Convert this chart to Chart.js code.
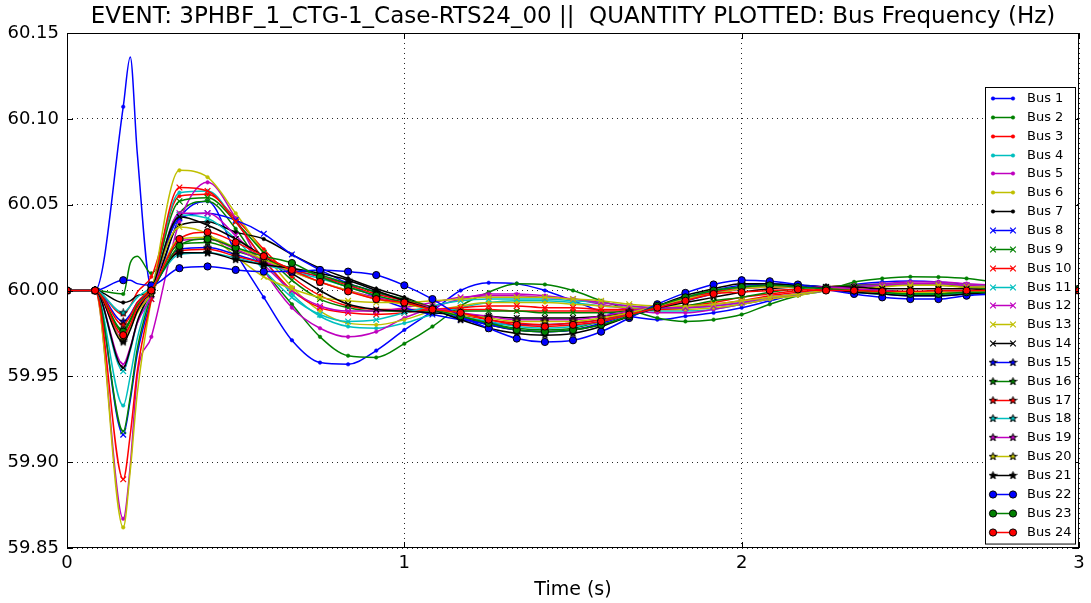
<!DOCTYPE html>
<html>
<head>
<meta charset="utf-8">
<script src="https://cdn.jsdelivr.net/npm/chart.js@4.4.1/dist/chart.umd.min.js"></script>
<style>
  html, body { margin: 0; padding: 0; background: #fff; }
  #wrap { width: 1091px; height: 603px; }
</style>
</head>
<body>
<div id="wrap"><canvas id="c" width="1091" height="603"></canvas></div>
<script>
// ─── DATA ─────────────────────────────────────────────────────
const titleText = 'EVENT: 3PHBF_1_CTG-1_Case-RTS24_00 ||  QUANTITY PLOTTED: Bus Frequency (Hz)';
const xLabel = 'Time (s)';
const xTicks = [0, 1, 2, 3];
const xTickLabels = ['0', '1', '2', '3'];
const yTicks = [59.85, 59.90, 59.95, 60.00, 60.05, 60.10, 60.15];
const yTickLabels = ['59.85', '59.90', '59.95', '60.00', '60.05', '60.10', '60.15'];

const busNames = ['Bus 1', 'Bus 2', 'Bus 3', 'Bus 4', 'Bus 5', 'Bus 6', 'Bus 7', 'Bus 8',
  'Bus 9', 'Bus 10', 'Bus 11', 'Bus 12', 'Bus 13', 'Bus 14', 'Bus 15', 'Bus 16',
  'Bus 17', 'Bus 18', 'Bus 19', 'Bus 20', 'Bus 21', 'Bus 22', 'Bus 23', 'Bus 24'];

// sample times (s); markers sit on the 1/12 s samples
const times = [0, 0.0833, 0.1667, 0.1875, 0.2083, 0.25, 0.3333, 0.4167, 0.5, 0.5833, 0.6667, 0.75,
  0.8333, 0.9167, 1.0, 1.0833, 1.1667, 1.25, 1.3333, 1.4167, 1.5, 1.5833, 1.6667, 1.75, 1.8333,
  1.9167, 2.0, 2.0833, 2.1667, 2.25, 2.3333, 2.4167, 2.5, 2.5833, 2.6667, 2.75, 2.8333, 2.9167, 3.0];

const bus01 = [60.000, 60.000, 60.107, 60.136, 60.080, 60.002, 60.042, 60.052, 60.022, 59.996, 59.971, 59.958, 59.957, 59.965, 59.977, 59.988, 60.000, 60.0045, 60.004, 60.000, 59.994, 59.988, 59.985, 59.983, 59.985, 59.987, 59.990, 59.994, 59.998, 60.001, 60.0035, 60.005, 60.0055, 60.005, 60.0035, 60.002, 60.000, 59.999, 59.999];
const bus02 = [60.000, 60.000, 59.998, 60.016, 60.020, 60.010, 60.045, 60.052, 60.036, 60.012, 59.992, 59.973, 59.962, 59.961, 59.969, 59.979, 59.991, 59.999, 60.004, 60.0035, 60.000, 59.994, 59.989, 59.984, 59.982, 59.983, 59.986, 59.992, 59.997, 60.000, 60.005, 60.007, 60.008, 60.0078, 60.007, 60.005, 60.003, 60.002, 60.001];
const bus03 = [60.000, 60.000, 59.986, 59.991, 59.999, 60.008, 60.055, 60.056, 60.042, 60.024, 60.008, 59.997, 59.991, 59.989, 59.989, 59.989, 59.989, 59.989, 59.988, 59.988, 59.988, 59.988, 59.988, 59.989, 59.991, 59.993, 59.996, 59.998, 60.000, 60.002, 60.003, 60.003, 60.003, 60.003, 60.002, 60.001, 60.001, 60.000, 60.000];
const bus04 = [60.000, 60.000, 59.933, 59.950, 59.972, 60.000, 60.057, 60.058, 60.040, 60.018, 59.998, 59.985, 59.979, 59.978, 59.981, 59.986, 59.990, 59.993, 59.994, 59.994, 59.993, 59.991, 59.990, 59.988, 59.988, 59.989, 59.992, 59.995, 59.998, 60.000, 60.002, 60.004, 60.004, 60.004, 60.003, 60.002, 60.001, 60.001, 60.000];
const bus05 = [60.000, 60.000, 59.867, 59.898, 59.950, 59.973, 60.040, 60.063, 60.042, 60.012, 59.990, 59.978, 59.973, 59.976, 59.984, 59.990, 59.995, 59.998, 59.998, 59.997, 59.995, 59.992, 59.989, 59.987, 59.987, 59.989, 59.992, 59.995, 59.998, 60.001, 60.003, 60.004, 60.005, 60.005, 60.004, 60.003, 60.002, 60.001, 60.001];
const bus06 = [60.000, 60.000, 59.862, 59.895, 59.940, 59.995, 60.070, 60.066, 60.045, 60.022, 60.002, 59.988, 59.981, 59.980, 59.983, 59.988, 59.991, 59.993, 59.993, 59.993, 59.992, 59.991, 59.990, 59.989, 59.989, 59.990, 59.992, 59.995, 59.997, 60.000, 60.002, 60.003, 60.004, 60.004, 60.003, 60.002, 60.001, 60.001, 60.000];
const bus07 = [60.000, 60.000, 59.993, 59.994, 59.997, 60.000, 60.038, 60.040, 60.034, 60.030, 60.021, 60.013, 60.007, 60.001, 59.996, 59.990, 59.985, 59.980, 59.977, 59.976, 59.977, 59.980, 59.985, 59.990, 59.995, 59.999, 60.002, 60.003, 60.003, 60.002, 60.001, 60.000, 59.999, 59.998, 59.998, 59.999, 59.999, 60.000, 60.000];
const bus08 = [60.000, 60.000, 59.916, 59.936, 59.963, 59.995, 60.042, 60.045, 60.041, 60.033, 60.021, 60.012, 60.004, 59.996, 59.990, 59.986, 59.983, 59.981, 59.980, 59.980, 59.981, 59.983, 59.986, 59.990, 59.994, 59.998, 60.001, 60.003, 60.003, 60.002, 60.001, 60.000, 59.999, 59.999, 59.999, 59.999, 60.000, 60.000, 60.000];
const bus09 = [60.000, 60.000, 59.918, 59.938, 59.966, 59.998, 60.052, 60.054, 60.040, 60.022, 60.006, 59.995, 59.990, 59.988, 59.988, 59.988, 59.988, 59.988, 59.988, 59.987, 59.987, 59.987, 59.988, 59.989, 59.991, 59.994, 59.996, 59.999, 60.001, 60.002, 60.003, 60.003, 60.003, 60.003, 60.002, 60.001, 60.001, 60.000, 60.000];
const bus10 = [60.000, 60.000, 59.890, 59.916, 59.953, 59.995, 60.060, 60.058, 60.040, 60.018, 60.000, 59.990, 59.987, 59.986, 59.987, 59.989, 59.990, 59.991, 59.991, 59.990, 59.990, 59.989, 59.989, 59.989, 59.990, 59.992, 59.994, 59.997, 59.999, 60.001, 60.002, 60.003, 60.004, 60.004, 60.003, 60.002, 60.001, 60.001, 60.000];
const bus11 = [60.000, 60.000, 59.953, 59.965, 59.981, 60.000, 60.044, 60.042, 60.030, 60.012, 59.996, 59.986, 59.982, 59.983, 59.987, 59.991, 59.994, 59.995, 59.995, 59.995, 59.994, 59.993, 59.991, 59.990, 59.990, 59.991, 59.993, 59.996, 59.998, 60.000, 60.002, 60.003, 60.004, 60.004, 60.003, 60.002, 60.001, 60.001, 60.000];
const bus12 = [60.000, 60.000, 59.957, 59.967, 59.981, 59.997, 60.045, 60.045, 60.032, 60.015, 60.000, 59.991, 59.988, 59.988, 59.990, 59.993, 59.996, 59.997, 59.997, 59.996, 59.995, 59.993, 59.991, 59.990, 59.990, 59.991, 59.993, 59.996, 59.998, 60.000, 60.002, 60.003, 60.004, 60.004, 60.003, 60.002, 60.002, 60.001, 60.000];
const bus13 = [60.000, 60.000, 59.976, 59.983, 59.992, 60.003, 60.037, 60.033, 60.020, 60.008, 60.001, 59.996, 59.994, 59.993, 59.993, 59.994, 59.995, 59.996, 59.996, 59.996, 59.995, 59.994, 59.992, 59.991, 59.991, 59.992, 59.994, 59.996, 59.998, 60.000, 60.001, 60.002, 60.003, 60.003, 60.002, 60.002, 60.001, 60.001, 60.000];
const bus14 = [60.000, 60.000, 59.955, 59.966, 59.982, 60.000, 60.043, 60.038, 60.030, 60.020, 60.010, 60.000, 59.992, 59.989, 59.988, 59.987, 59.986, 59.985, 59.984, 59.984, 59.984, 59.985, 59.987, 59.990, 59.993, 59.996, 59.999, 60.001, 60.002, 60.002, 60.002, 60.001, 60.001, 60.001, 60.001, 60.000, 60.000, 60.000, 60.000];
const bus15 = [60.000, 60.000, 59.982, 59.986, 59.993, 60.000, 60.024, 60.025, 60.021, 60.016, 60.012, 60.008, 60.004, 59.999, 59.994, 59.989, 59.984, 59.980, 59.977, 59.976, 59.977, 59.981, 59.986, 59.991, 59.996, 60.000, 60.003, 60.004, 60.003, 60.001, 59.999, 59.998, 59.997, 59.997, 59.998, 59.999, 59.999, 60.000, 60.000];
const bus16 = [60.000, 60.000, 59.977, 59.983, 59.991, 60.000, 60.027, 60.028, 60.023, 60.018, 60.013, 60.009, 60.004, 59.999, 59.995, 59.990, 59.985, 59.981, 59.978, 59.977, 59.978, 59.982, 59.986, 59.991, 59.996, 59.999, 60.002, 60.003, 60.003, 60.001, 60.000, 59.998, 59.998, 59.998, 59.998, 59.999, 60.000, 60.000, 60.000];
const bus17 = [60.000, 60.000, 59.980, 59.985, 59.993, 60.001, 60.023, 60.024, 60.020, 60.016, 60.012, 60.008, 60.003, 59.998, 59.994, 59.990, 59.986, 59.983, 59.981, 59.980, 59.981, 59.983, 59.987, 59.991, 59.995, 59.999, 60.001, 60.002, 60.002, 60.001, 60.000, 59.999, 59.999, 59.999, 59.999, 60.000, 60.000, 60.000, 60.000];
const bus18 = [60.000, 60.000, 59.987, 59.991, 59.996, 60.002, 60.021, 60.022, 60.019, 60.015, 60.011, 60.007, 60.002, 59.997, 59.993, 59.989, 59.985, 59.982, 59.979, 59.978, 59.979, 59.982, 59.986, 59.991, 59.996, 60.000, 60.002, 60.003, 60.002, 60.001, 59.999, 59.998, 59.998, 59.998, 59.998, 59.999, 60.000, 60.000, 60.000];
const bus19 = [60.000, 60.000, 59.972, 59.979, 59.988, 59.998, 60.029, 60.030, 60.024, 60.017, 60.011, 60.005, 60.000, 59.996, 59.993, 59.990, 59.987, 59.985, 59.983, 59.983, 59.983, 59.985, 59.988, 59.991, 59.995, 59.998, 60.001, 60.002, 60.002, 60.002, 60.001, 60.000, 59.999, 59.999, 59.999, 60.000, 60.000, 60.000, 60.000];
const bus20 = [60.000, 60.000, 59.971, 59.978, 59.987, 59.998, 60.030, 60.031, 60.025, 60.018, 60.011, 60.005, 60.000, 59.995, 59.992, 59.989, 59.986, 59.984, 59.982, 59.982, 59.982, 59.984, 59.987, 59.991, 59.995, 59.998, 60.001, 60.002, 60.002, 60.001, 60.000, 59.999, 59.999, 59.999, 59.999, 60.000, 60.000, 60.000, 60.000];
const bus21 = [60.000, 60.000, 59.970, 59.977, 59.988, 60.000, 60.022, 60.022, 60.018, 60.015, 60.013, 60.010, 60.006, 60.000, 59.994, 59.989, 59.983, 59.978, 59.975, 59.974, 59.975, 59.979, 59.985, 59.991, 59.997, 60.001, 60.004, 60.004, 60.003, 60.001, 59.999, 59.998, 59.997, 59.997, 59.998, 59.999, 60.000, 60.000, 60.001];
const bus22 = [60.000, 60.000, 60.006, 60.006, 60.004, 60.003, 60.013, 60.014, 60.012, 60.011, 60.011, 60.012, 60.011, 60.009, 60.003, 59.995, 59.985, 59.978, 59.972, 59.970, 59.971, 59.976, 59.984, 59.992, 59.9986, 60.0035, 60.006, 60.0054, 60.0035, 60.0006, 59.998, 59.996, 59.995, 59.995, 59.997, 59.998, 59.999, 60.000, 60.001];
const bus23 = [60.000, 60.000, 59.976, 59.982, 59.991, 60.000, 60.026, 60.030, 60.025, 60.020, 60.016, 60.008, 60.002, 59.997, 59.993, 59.989, 59.985, 59.981, 59.977, 59.976, 59.977, 59.980, 59.985, 59.991, 59.996, 60.000, 60.002, 60.003, 60.002, 60.001, 60.000, 59.999, 59.998, 59.998, 59.999, 59.999, 60.000, 60.000, 60.001];
const bus24 = [60.000, 60.000, 59.974, 59.980, 59.990, 60.000, 60.030, 60.034, 60.028, 60.020, 60.012, 60.005, 59.9995, 59.995, 59.993, 59.989, 59.987, 59.983, 59.980, 59.979, 59.980, 59.982, 59.986, 59.990, 59.994, 59.998, 59.999, 60.000, 60.0006, 60.000, 60.000, 59.9995, 59.9995, 60.000, 60.000, 60.000, 60.000, 60.000, 60.000];

const series = [bus01, bus02, bus03, bus04, bus05, bus06, bus07, bus08, bus09, bus10, bus11, bus12,
  bus13, bus14, bus15, bus16, bus17, bus18, bus19, bus20, bus21, bus22, bus23, bus24];

// ─── STYLE ────────────────────────────────────────────────────
const FONT = '"DejaVu Sans", "Liberation Sans", sans-serif';
const lineColors = ['#0000ff', '#008000', '#ff0000', '#00bfbf', '#bf00bf', '#bfbf00', '#000000'];
const markerKinds = ['dot', 'x', 'star', 'circle'];
const marked = times.map(t => Math.abs(t * 12 - Math.round(t * 12)) < 0.01);

function makeStar(color) {
    const c = document.createElement('canvas');
    c.width = 9; c.height = 9;
    const g = c.getContext('2d');
    g.beginPath();
    for (let k = 0; k < 10; k++) {
        const ang = -Math.PI / 2 + k * Math.PI / 5;
        const r = k % 2 ? 1.6 : 4.0;
        const px = 4.5 + r * Math.cos(ang), py = 4.6 + r * Math.sin(ang);
        k ? g.lineTo(px, py) : g.moveTo(px, py);
    }
    g.closePath();
    g.fillStyle = color; g.fill();
    g.strokeStyle = '#000'; g.lineWidth = 1; g.stroke();
    return c;
}

function markerStyle(kind, color) {
    if (kind === 'dot')    return { pointStyle: 'circle',   radius: 1.8, bg: color, border: color, bw: 0.5 };
    if (kind === 'x')      return { pointStyle: 'crossRot', radius: 4.0, bg: color, border: color, bw: 1.2 };
    if (kind === 'star')   return { pointStyle: makeStar(color), radius: 4, bg: color, border: '#000', bw: 0 };
    return                        { pointStyle: 'circle',   radius: 3.6, bg: color, border: '#000', bw: 1 };
}

const datasets = series.map((vals, i) => {
    const color = lineColors[i % 7];
    const m = markerStyle(markerKinds[Math.floor(i / 7)], color);
    return {
        label: busNames[i],
        data: times.map((t, k) => ({ x: t, y: vals[k] })),
        borderColor: color,
        borderWidth: 1.5,
        cubicInterpolationMode: 'monotone',
        fill: false,
        pointStyle: m.pointStyle,
        pointRadius: ctx => marked[ctx.dataIndex] ? m.radius : 0,
        pointBackgroundColor: m.bg,
        pointBorderColor: m.border,
        pointBorderWidth: m.bw,
        order: series.length - i,
        _marker: m
    };
});

// ─── FRAME, TITLE, LEGEND ─────────────────────────────────────
const decor = {
    id: 'decor',
    afterDraw(chart) {
        const { ctx, chartArea: a, scales: { x, y } } = chart;
        ctx.save();
        ctx.strokeStyle = '#000';
        ctx.lineWidth = 1;
        ctx.beginPath();
        xTicks.forEach(v => {
            const px = Math.round(x.getPixelForValue(v)) + 0.5;
            ctx.moveTo(px, a.bottom); ctx.lineTo(px, a.bottom - 6);
            ctx.moveTo(px, a.top);    ctx.lineTo(px, a.top + 6);
        });
        yTicks.forEach(v => {
            const py = Math.round(y.getPixelForValue(v)) + 0.5;
            ctx.moveTo(a.left, py);  ctx.lineTo(a.left + 6, py);
            ctx.moveTo(a.right, py); ctx.lineTo(a.right - 6, py);
        });
        ctx.stroke();
        ctx.strokeRect(a.left + 0.5, a.top + 0.5, a.width - 1, a.height - 1);

        ctx.fillStyle = '#000';
        ctx.textAlign = 'center';
        ctx.textBaseline = 'middle';
        ctx.font = '23px ' + FONT;
        ctx.fillText(titleText, (a.left + a.right) / 2, 17);
        ctx.font = '19px ' + FONT;
        ctx.fillText(xLabel, (a.left + a.right) / 2, 590);

        // legend box
        const bx = a.right - 94, bw = 90, by = a.top + 54, rowH = 18.85;
        const bh = rowH * (datasets.length - 1) + 23;
        ctx.fillStyle = '#fff';
        ctx.fillRect(bx, by, bw, bh);
        ctx.strokeRect(bx + 0.5, by + 0.5, bw, bh);
        ctx.font = '13px ' + FONT;
        ctx.textAlign = 'left';
        chart.data.datasets.forEach((ds, i) => {
            const ry = Math.round(by + 11 + i * rowH) + 0.5;
            ctx.strokeStyle = ds.borderColor;
            ctx.lineWidth = 1.5;
            ctx.beginPath();
            ctx.moveTo(bx + 8, ry); ctx.lineTo(bx + 28, ry);
            ctx.stroke();
            const m = ds._marker;
            [bx + 8, bx + 28].forEach(px => {
                ctx.fillStyle = m.bg;
                ctx.strokeStyle = m.border;
                ctx.lineWidth = m.bw;
                Chart.helpers.drawPoint(ctx, { pointStyle: m.pointStyle, radius: m.radius, rotation: 0, borderWidth: m.bw }, px, ry);
            });
            ctx.fillStyle = '#000';
            ctx.fillText(ds.label, bx + 42, ry);
        });
        ctx.restore();
    }
};

// ─── CHART ────────────────────────────────────────────────────
new Chart(document.getElementById('c'), {
    type: 'line',
    data: { datasets },
    options: {
        responsive: false,
        animation: false,
        events: [],
        layout: { padding: { top: 33, right: 12, left: 0, bottom: 0 } },
        plugins: { legend: { display: false }, tooltip: { enabled: false }, title: { display: false } },
        scales: {
            x: {
                type: 'linear', min: 0, max: 3,
                afterBuildTicks: s => { s.ticks = xTicks.map(v => ({ value: v })); },
                afterFit: s => { s.height = 55; },
                ticks: {
                    color: '#000', padding: 5, maxRotation: 0,
                    font: { family: FONT, size: 18 },
                    callback: (v, idx) => xTickLabels[idx]
                },
                grid: { color: 'rgba(0,0,0,0.85)', lineWidth: 1, drawTicks: false },
                border: { display: false, dash: [1, 4] }
            },
            y: {
                type: 'linear', min: 59.85, max: 60.15,
                afterBuildTicks: s => { s.ticks = yTicks.map(v => ({ value: v })); },
                afterFit: s => { s.width = 67; },
                ticks: {
                    color: '#000', padding: 8,
                    font: { family: FONT, size: 18 },
                    callback: (v, idx) => yTickLabels[idx]
                },
                grid: { color: 'rgba(0,0,0,0.85)', lineWidth: 1, drawTicks: false },
                border: { display: false, dash: [1, 4] }
            }
        }
    },
    plugins: [decor]
});
</script>
</body>
</html>
